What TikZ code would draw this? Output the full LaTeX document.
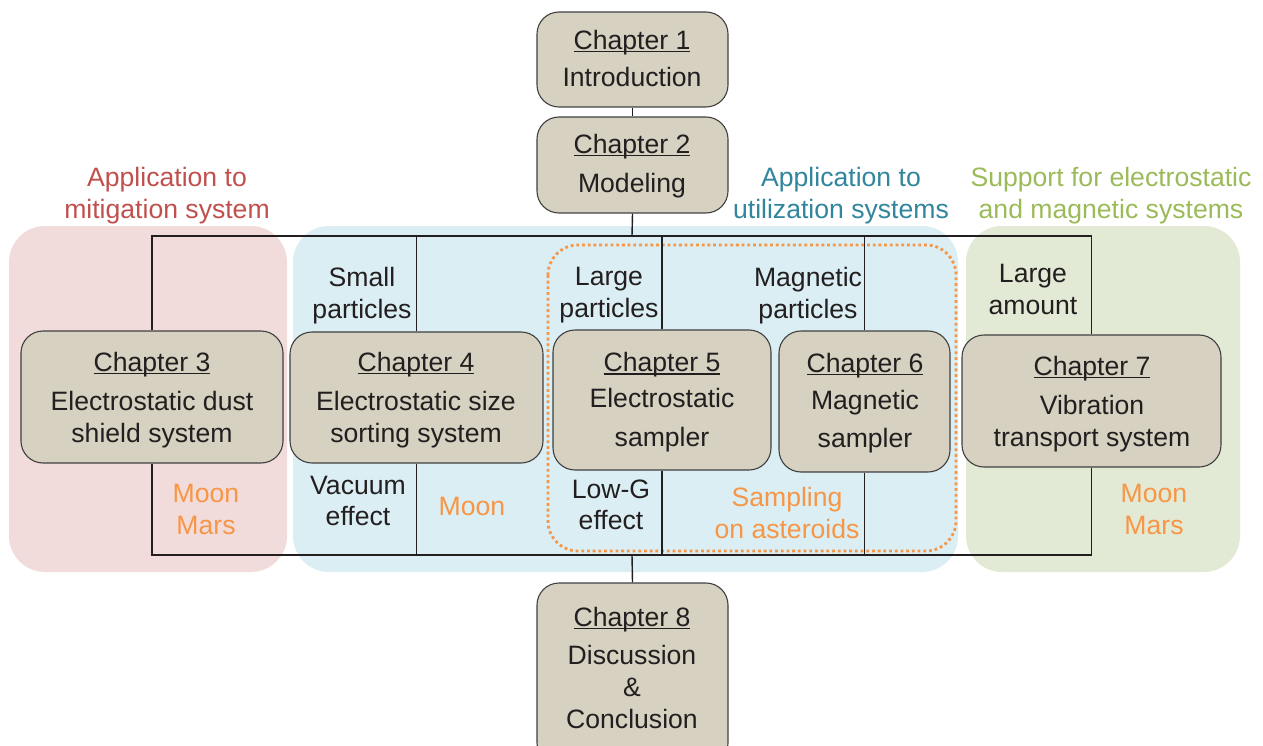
\documentclass[tikz,border=0pt]{standalone}
\usepackage{fontspec}
\setmainfont{Liberation Sans}
\definecolor{pinkbg}{RGB}{242,220,219}
\definecolor{bluebg}{RGB}{218,238,243}
\definecolor{greenbg}{RGB}{226,234,213}
\definecolor{boxfill}{RGB}{214,209,192}
\definecolor{boxline}{RGB}{64,64,64}
\definecolor{orng}{RGB}{247,150,70}
\definecolor{redt}{RGB}{192,80,77}
\definecolor{tealt}{RGB}{49,133,156}
\definecolor{greent}{RGB}{155,187,89}
\definecolor{ink}{RGB}{35,31,32}
\newsavebox\chapbox
\newcommand\chapul[1]{\sbox\chapbox{#1}\rlap{\rule[-2.6pt]{\wd\chapbox}{1.4pt}}\usebox\chapbox}
\begin{document}
\begin{tikzpicture}[x=1pt,y=-1pt,font=\fontsize{26.6}{32}\selectfont,text=ink,
  chbox/.style={draw=boxline,line width=1.1pt,fill=boxfill,rounded corners=22pt,inner sep=0pt},
  txt/.style={align=center,inner sep=0pt,anchor=north},
  conn/.style={draw=ink,line width=1.4pt},
  dotbox/.style={draw=orng,line width=2.8pt,dash pattern=on 2.8pt off 2.9pt,rounded corners=30pt}]
\useasboundingbox (0,0) rectangle (1263,746);
% background regions
\fill[pinkbg,rounded corners=36pt] (9,226) rectangle (287,572);
\fill[bluebg,rounded corners=36pt] (293,226) rectangle (958,572);
\fill[greenbg,rounded corners=36pt] (966,226) rectangle (1240,572);
\draw[dotbox] (548,245) rectangle (956,551);
% boxes
\node[chbox,minimum width=191pt,minimum height=95pt] (c1) at (632.5,59.5) {};
\node[chbox,minimum width=191pt,minimum height=96pt] (c2) at (632.5,165) {};
\node[chbox,minimum width=262pt,minimum height=132pt] (c3) at (152,397) {};
\node[chbox,minimum width=253pt,minimum height=131pt] (c4) at (416.5,397.5) {};
\node[chbox,minimum width=218pt,minimum height=140pt] (c5) at (662,400) {};
\node[chbox,minimum width=171pt,minimum height=141pt] (c6) at (864.5,401.5) {};
\node[chbox,minimum width=259pt,minimum height=132pt] (c7) at (1091.5,401) {};
\node[chbox,minimum width=191pt,minimum height=182pt] (c8) at (632.5,674) {};
% connectors
\coordinate (busT) at (632,236);
\coordinate (busB) at (632,555);
\draw[conn] (c1.south) -- (c2.north);
\draw[conn] (c2.south) -- (busT);
\draw[conn] (c3.north) |- (busT);
\draw[conn] (c7.north) |- (busT);
\draw[conn] (c4.north) -- (c4.north |- busT);
\draw[conn] (c5.north) -- (c5.north |- busT);
\draw[conn] (c6.north) -- (c6.north |- busT);
\draw[conn] (c3.south) |- (busB);
\draw[conn] (c7.south) |- (busB);
\draw[conn] (c4.south) -- (c4.south |- busB);
\draw[conn] (c5.south) -- (c5.south |- busB);
\draw[conn] (c6.south) -- (c6.south |- busB);
\draw[conn] (busB) -- (c8.north);
% box texts
\node[txt] (t1) at (632,30) {\chapul{Chapter 1}\\[5.5pt]Introduction};
\node[txt] (t2) at (632,134) {\chapul{Chapter 2}\\[7pt]Modeling};
\node[txt] (t3) at (152,352) {\chapul{Chapter 3}\\[7pt]Electrostatic dust\\shield system};
\node[txt] (t4) at (416,352) {\chapul{Chapter 4}\\[7pt]Electrostatic size\\sorting system};
\node[txt] (t5) at (662,352.5) {\chapul{Chapter 5}\\[4pt]Electrostatic\\[7pt]sampler};
\node[txt] (t6) at (865,353) {\chapul{Chapter 6}\\[5.5pt]Magnetic\\[6pt]sampler};
\node[txt] (t7) at (1092,356) {\chapul{Chapter 7}\\[7pt]Vibration\\transport system};
\node[txt] (t8) at (632,607) {\chapul{Chapter 8}\\[6pt]Discussion\\\&\\Conclusion};
% group titles
\node[txt,text=redt] (g1) at (167,167) {Application to\\mitigation system};
\node[txt,text=tealt] (g2) at (841,167) {Application to\\utilization systems};
\node[txt,text=greent] (g3) at (1111,167) {Support for electrostatic\\and magnetic systems};
% upper labels
\node[txt] (l1) at (362,267) {Small\\particles};
\node[txt] (l2) at (609,267.2) {Large\\particles};
\node[txt] (l3) at (808,267.5) {Magnetic\\particles};
\node[txt] (l4) at (1033,264) {Large\\amount};
% lower labels
\node[txt,text=orng] (m1) at (206,484) {Moon\\Mars};
\node[txt] (m2) at (358,476) {Vacuum\\[-1pt]effect};
\node[txt,text=orng] (m3) at (472,497) {Moon};
\node[txt] (m4) at (611,479.5) {Low-G\\[-1pt]effect};
\node[txt,text=orng] (m5) at (787,487.2) {Sampling\\on asteroids};
\node[txt,text=orng] (m6) at (1154,484) {Moon\\Mars};
\end{tikzpicture}
\end{document}
